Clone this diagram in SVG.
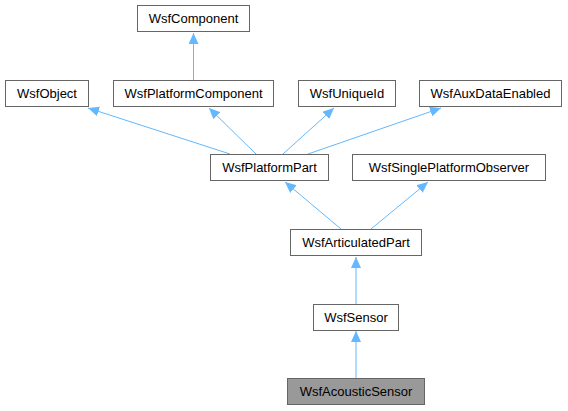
<svg xmlns="http://www.w3.org/2000/svg" width="568" height="411" viewBox="0 0 568 411">
<defs>
<style>
.n rect{fill:#ffffff;stroke:#666666;stroke-width:1}
.n.f rect{fill:#999999}
.n text{font-family:"Liberation Sans",Arial,sans-serif;font-size:13px;fill:#000000;text-anchor:middle}
.e line{stroke:#63b8ff;stroke-width:1;fill:none}
</style>
<marker id="ah" viewBox="0 0 12 10" refX="11" refY="5" markerWidth="12" markerHeight="10" markerUnits="userSpaceOnUse" orient="auto">
<path d="M0,0 L11,5 L0,10 Z" fill="#63b8ff"/>
</marker>
</defs>
<rect width="568" height="411" fill="#ffffff"/>
<g id="edges" class="e">
<line x1="193.5" y1="80" x2="193.5" y2="33" marker-end="url(#ah)"/>
<line x1="230" y1="154" x2="88" y2="108" marker-end="url(#ah)"/>
<line x1="256" y1="154" x2="209" y2="108" marker-end="url(#ah)"/>
<line x1="283" y1="154" x2="334" y2="108" marker-end="url(#ah)"/>
<line x1="308" y1="154" x2="441" y2="108" marker-end="url(#ah)"/>
<line x1="341" y1="229" x2="285" y2="182" marker-end="url(#ah)"/>
<line x1="371" y1="229" x2="428" y2="182" marker-end="url(#ah)"/>
<line x1="356" y1="304" x2="356" y2="257" marker-end="url(#ah)"/>
<line x1="356" y1="378" x2="356" y2="331" marker-end="url(#ah)"/>
</g>
<g id="WsfComponent" class="n"><rect x="137.5" y="5.5" width="112" height="26"/><text x="193.5" y="23">WsfComponent</text></g>
<g id="WsfObject" class="n"><rect x="5.5" y="80.5" width="83" height="26"/><text x="47" y="98">WsfObject</text></g>
<g id="WsfPlatformComponent" class="n"><rect x="113.5" y="80.5" width="160" height="26"/><text x="193.5" y="98">WsfPlatformComponent</text></g>
<g id="WsfUniqueId" class="n"><rect x="298.5" y="80.5" width="97" height="26"/><text x="347" y="98">WsfUniqueId</text></g>
<g id="WsfAuxDataEnabled" class="n"><rect x="419.5" y="80.5" width="142" height="26"/><text x="490.5" y="98">WsfAuxDataEnabled</text></g>
<g id="WsfPlatformPart" class="n"><rect x="210.5" y="154.5" width="118" height="26"/><text x="269.5" y="172">WsfPlatformPart</text></g>
<g id="WsfSinglePlatformObserver" class="n"><rect x="352.5" y="154.5" width="193" height="26"/><text x="449" y="172">WsfSinglePlatformObserver</text></g>
<g id="WsfArticulatedPart" class="n"><rect x="290.5" y="229.5" width="131" height="26"/><text x="356" y="247">WsfArticulatedPart</text></g>
<g id="WsfSensor" class="n"><rect x="313.5" y="304.5" width="85" height="26"/><text x="356" y="322">WsfSensor</text></g>
<g id="WsfAcousticSensor" class="n f"><rect x="287.5" y="378.5" width="137" height="26"/><text x="356" y="396">WsfAcousticSensor</text></g>
</svg>
